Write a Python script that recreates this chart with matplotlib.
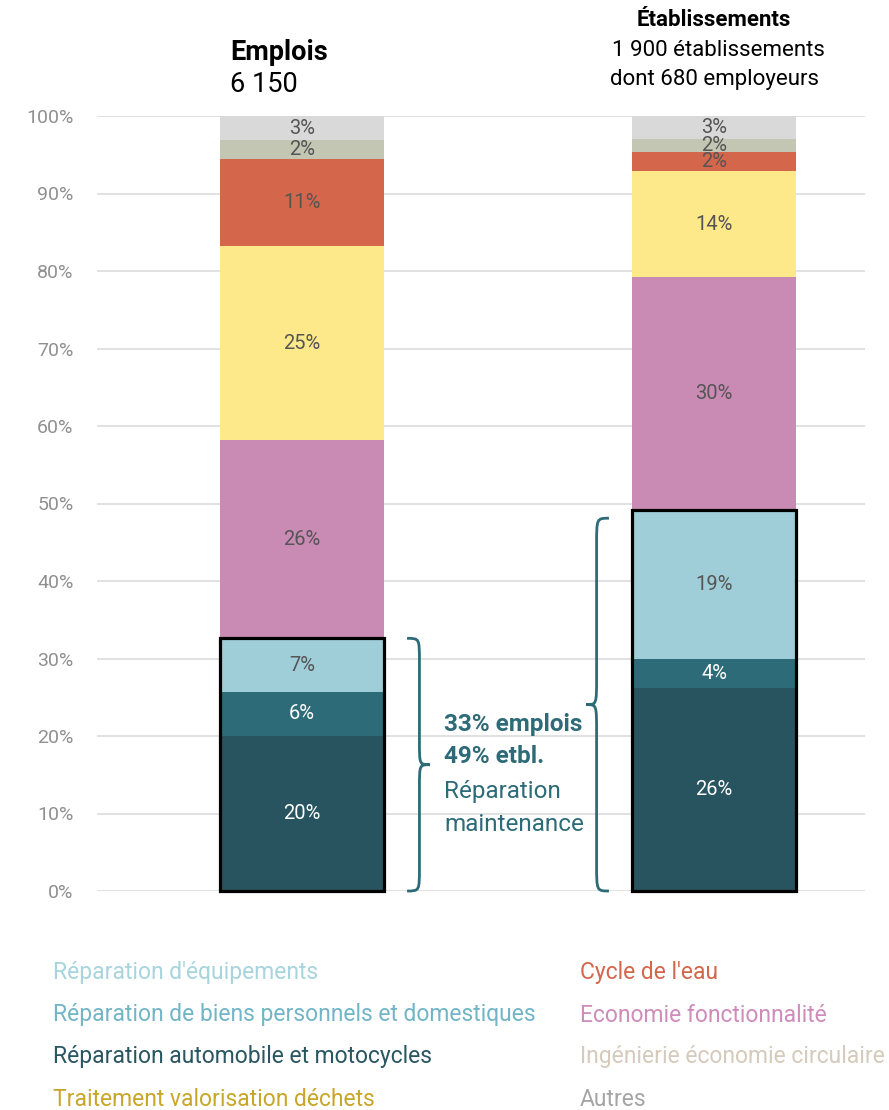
import matplotlib
matplotlib.use("Agg")
import matplotlib.pyplot as plt
from matplotlib.path import Path
from matplotlib.patches import PathPatch, Rectangle
import numpy as np

plt.rcParams['font.family'] = ['Roboto', 'DejaVu Sans']

# segments from bottom to top
segments = ["Réparation automobile et motocycles",
            "Réparation de biens personnels et domestiques",
            "Réparation d'équipements",
            "Economie fonctionnalité",
            "Traitement valorisation déchets",
            "Cycle de l'eau",
            "Ingénierie économie circulaire",
            "Autres"]
emplois = [20.0, 5.7, 6.9, 25.6, 25.0, 11.3, 2.4, 3.1]
etablissements = [26.2, 3.7, 19.2, 30.1, 13.7, 2.4, 1.7, 3.0]
bar_colors = ['#285460', '#2e6b78', '#9fcdd8', '#c98ab4', '#fde88a',
              '#d4664c', '#c3c6b3', '#d9d9d9']
label_colors = ['white', 'white', '#555555', '#555555', '#555555',
                '#555555', '#555555', '#555555']

legend_left = ["Réparation d'équipements",
               "Réparation de biens personnels et domestiques",
               "Réparation automobile et motocycles",
               "Traitement valorisation déchets"]
legend_left_colors = ['#a8d4de', '#72b5c7', '#2a5661', '#c8a62a']
legend_right = ["Cycle de l'eau", "Economie fonctionnalité",
                "Ingénierie économie circulaire", "Autres"]
legend_right_colors = ['#d4664c', '#cf8cbb', '#d5cabb', '#a5a5a5']

repair_share = [sum(emplois[:3]), sum(etablissements[:3])]

W, H = 889, 1110


def fx(x):
    return x / W


def fy(y):
    return 1 - y / H


fig = plt.figure(figsize=(W / 100, H / 100), dpi=100)
ax = fig.add_axes([fx(97), fy(891), fx(865) - fx(97), fy(116) - fy(891)])

xpos = [0, 1]
width = 0.398
for x, vals in zip(xpos, [emplois, etablissements]):
    bottom = 0
    for v, c, tc in zip(vals, bar_colors, label_colors):
        ax.bar(x, v, width, bottom=bottom, color=c, zorder=2)
        ax.text(x, bottom + v / 2, '%d%%' % round(v), ha='center', va='center',
                color=tc, fontsize=14.5, zorder=4)
        bottom += v

# black boxes around the repair segments
for x, h in zip(xpos, repair_share):
    ax.add_patch(Rectangle((x - width / 2, 0), width, h, fill=False,
                           edgecolor='black', lw=2.3, zorder=5, clip_on=False))


def brace(ax, xs, xe, xt, y0, y1, d, color):
    ym = (y0 + y1) / 2
    verts = [(xe, y0), (xs, y0), (xs, y0), (xs, y0 + d),
             (xs, ym - d),
             (xs, ym), (xs, ym), (xt, ym),
             (xs, ym), (xs, ym), (xs, ym + d),
             (xs, y1 - d),
             (xs, y1), (xs, y1), (xe, y1)]
    codes = [Path.MOVETO, Path.CURVE4, Path.CURVE4, Path.CURVE4,
             Path.LINETO,
             Path.CURVE4, Path.CURVE4, Path.CURVE4,
             Path.CURVE4, Path.CURVE4, Path.CURVE4,
             Path.LINETO,
             Path.CURVE4, Path.CURVE4, Path.CURVE4]
    ax.add_patch(PathPatch(Path(verts, codes), fill=False, edgecolor=color,
                           lw=2, zorder=5, clip_on=False))


teal = '#2e6b78'
brace(ax, 0.285, 0.255, 0.31, 0, repair_share[0], 3.0, teal)
brace(ax, 0.715, 0.745, 0.69, 0, repair_share[1] - 1, 3.5, teal)

ax.text(0.345, 21.5, '33% emplois', color=teal, fontsize=17.5, fontweight='bold',
        va='center', ha='left')
ax.text(0.345, 17.3, '49% etbl.', color=teal, fontsize=17.5, fontweight='bold',
        va='center', ha='left')
ax.text(0.345, 12.8, 'Réparation', color=teal, fontsize=17.5,
        va='center', ha='left')
ax.text(0.345, 8.6, 'maintenance', color=teal, fontsize=17.5,
        va='center', ha='left')

ax.set_xlim(-0.4976, 1.3665)
ax.set_ylim(0, 100)
ax.set_yticks(np.arange(0, 101, 10))
ax.set_yticklabels(['%d%%' % t for t in range(0, 101, 10)])
ax.tick_params(axis='y', length=0, pad=17, labelsize=14, labelcolor='#909090')
ax.set_xticks([])
ax.grid(axis='y', color='#dcdcdc', lw=1.2, zorder=0)
for s in ax.spines.values():
    s.set_visible(False)

# headers
fig.text(fx(230), fy(52), 'Emplois', fontsize=19.5, fontweight='bold',
         ha='left', va='center')
fig.text(fx(230), fy(85), '6 150', fontsize=19.5, ha='left', va='center')
fig.text(fx(714), fy(20), 'Établissements', fontsize=16, fontweight='bold',
         ha='center', va='center')
fig.text(fx(718), fy(50), '1 900 établissements', fontsize=16,
         ha='center', va='center')
fig.text(fx(714), fy(80), 'dont 680 employeurs', fontsize=16,
         ha='center', va='center')

# legend as coloured text
rows = [973, 1015, 1057, 1099]
for y, t, c in zip(rows, legend_left, legend_left_colors):
    fig.text(fx(53), fy(y), t, color=c, fontsize=16.5, ha='left', va='center')
for y, t, c in zip(rows, legend_right, legend_right_colors):
    fig.text(fx(580), fy(y), t, color=c, fontsize=16.5, ha='left', va='center')

fig.savefig('out.png', dpi=100)
